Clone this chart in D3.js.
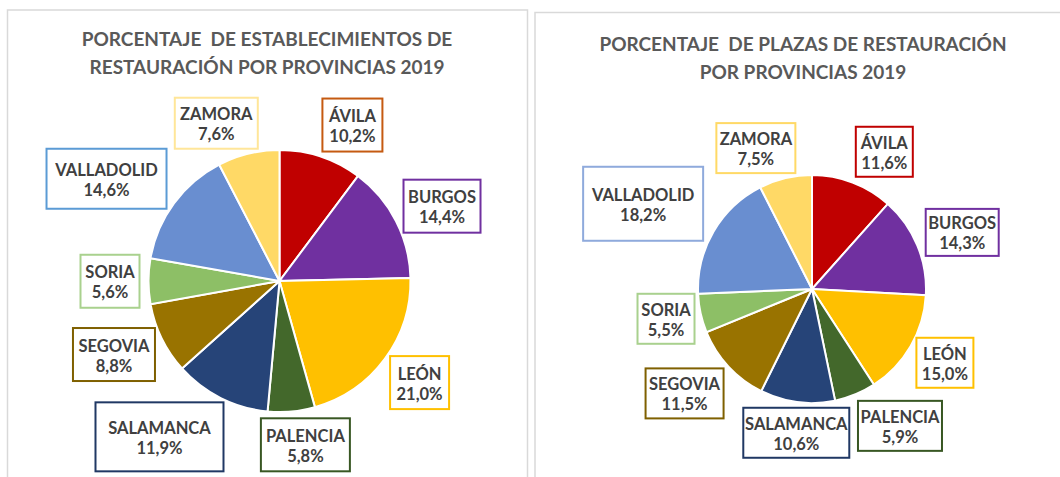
<!DOCTYPE html>
<html>
<head>
<meta charset="utf-8">
<script src="https://cdn.jsdelivr.net/npm/d3@7"></script>
<style>
  body { margin: 0; background: #fff; }
  svg { display: block; }
  text { font-family: Lato, "Open Sans", sans-serif; font-weight: bold; white-space: pre; }
</style>
</head>
<body>
<div id="chart"></div>
<script>
// Data
const provinces = ["ÁVILA", "BURGOS", "LEÓN", "PALENCIA", "SALAMANCA", "SEGOVIA", "SORIA", "VALLADOLID", "ZAMORA"];
const establecimientos = [10.2, 14.4, 21.0, 5.8, 11.9, 8.8, 5.6, 14.6, 7.6];
const plazas = [11.6, 14.3, 15.0, 5.9, 10.6, 11.5, 5.5, 18.2, 7.5];
const titleEstablecimientos = ["PORCENTAJE  DE ESTABLECIMIENTOS DE", "RESTAURACIÓN POR PROVINCIAS 2019"];
const titlePlazas = ["PORCENTAJE  DE PLAZAS DE RESTAURACIÓN", "POR PROVINCIAS 2019"];

// Colours
const sliceColors = ["#C00000", "#7030A0", "#FFC000", "#43682B", "#264478", "#997300", "#8DBF66", "#698ED0", "#FFD966"];
const boxColorsLeft = ["#C55A11", "#7030A0", "#FFC000", "#385723", "#203864", "#7F6000", "#A9D18E", "#5B9BD5", "#FFE699"];
const boxColorsRight = ["#C00000", "#7030A0", "#FFC000", "#385723", "#203864", "#7F6000", "#A9D18E", "#8FAADC", "#FFD966"];

// Label box sizes and nudges from the automatic outside position
const boxLayoutLeft = [
  {w: 60, h: 53, dx: 19, dy: 3},
  {w: 77, h: 53, dx: 3, dy: 2},
  {w: 59, h: 53, dx: 3, dy: 2},
  {w: 89, h: 53, dx: 9, dy: -3},
  {w: 128, h: 69, dx: -28, dy: -1},
  {w: 82, h: 53, dx: -2, dy: 0},
  {w: 59, h: 53, dx: 1, dy: 0},
  {w: 120, h: 60, dx: -11, dy: -1},
  {w: 83, h: 51, dx: -20, dy: 4}
];
const boxLayoutRight = [
  {w: 57, h: 50, dx: 18, dy: 2},
  {w: 73, h: 47, dx: 2, dy: 0},
  {w: 57, h: 50, dx: 1, dy: -1},
  {w: 84, h: 50, dx: 25, dy: -1},
  {w: 106, h: 50, dx: 7, dy: -4},
  {w: 78, h: 50, dx: -8, dy: 3},
  {w: 57, h: 50, dx: 3, dy: -2},
  {w: 120, h: 74, dx: -10, dy: -4},
  {w: 79, h: 50, dx: -18, dy: 4}
];

const width = 1060;
const height = 477;

const svg = d3.select("#chart").append("svg")
    .attr("width", width)
    .attr("height", height);

const fmt = v => v.toFixed(1).replace(".", ",") + "%";

function drawPanel(cfg) {
  // panel frame
  svg.append("rect")
      .attr("x", cfg.frame[0])
      .attr("y", cfg.frame[1])
      .attr("width", cfg.frame[2])
      .attr("height", cfg.frame[3])
      .attr("fill", "#fff")
      .attr("stroke", "#D9D9D9")
      .attr("stroke-width", 1.5);

  // title
  svg.append("g")
    .selectAll("text")
    .data(cfg.title)
    .join("text")
      .attr("x", cfg.titleX)
      .attr("y", (d, i) => cfg.titleY + i * cfg.titleGap)
      .attr("text-anchor", "middle")
      .attr("fill", "#595959")
      .style("font-size", "19px")
      .text(d => d);

  const data = provinces.map((p, i) => ({name: p, value: cfg.values[i], i}));
  const pie = d3.pie().sort(null).value(d => d.value);
  const arc = d3.arc().innerRadius(0).outerRadius(cfg.r);
  const arcs = pie(data);

  const g = svg.append("g")
      .attr("transform", `translate(${cfg.cx},${cfg.cy})`);

  g.selectAll("path")
    .data(arcs)
    .join("path")
      .attr("d", arc)
      .attr("fill", d => sliceColors[d.data.i])
      .attr("stroke", "#fff")
      .attr("stroke-width", 2);

  // data labels placed just outside the slice, then nudged like the original
  const gap = 10;
  const labels = g.selectAll("g.lbl")
    .data(arcs)
    .join("g")
      .attr("class", "lbl")
      .attr("transform", d => {
        const a = (d.startAngle + d.endAngle) / 2;
        const s = Math.sin(a), c = -Math.cos(a);
        const L = cfg.layout[d.data.i];
        const x = (cfg.r + gap) * s + s * L.w / 2 + L.dx;
        const y = (cfg.r + gap) * c + c * L.h / 2 + L.dy;
        return `translate(${x},${y})`;
      });

  labels.append("rect")
      .attr("x", d => -cfg.layout[d.data.i].w / 2)
      .attr("y", d => -cfg.layout[d.data.i].h / 2)
      .attr("width", d => cfg.layout[d.data.i].w)
      .attr("height", d => cfg.layout[d.data.i].h)
      .attr("fill", "#fff")
      .attr("stroke", d => cfg.boxColors[d.data.i])
      .attr("stroke-width", 2);

  labels.append("text")
      .attr("y", -3)
      .attr("text-anchor", "middle")
      .attr("fill", "#404040")
      .style("font-size", "16.5px")
      .text(d => d.data.name);

  labels.append("text")
      .attr("y", 17)
      .attr("text-anchor", "middle")
      .attr("fill", "#404040")
      .style("font-size", "16.5px")
      .text(d => fmt(d.data.value));
}

drawPanel({
  frame: [7.5, 10, 520, 500],
  title: titleEstablecimientos,
  titleX: 267, titleY: 46, titleGap: 28.3,
  values: establecimientos,
  cx: 279.5, cy: 281, r: 131,
  layout: boxLayoutLeft,
  boxColors: boxColorsLeft
});

drawPanel({
  frame: [535, 12.5, 560, 500],
  title: titlePlazas,
  titleX: 803, titleY: 50.5, titleGap: 28.7,
  values: plazas,
  cx: 812, cy: 289, r: 114,
  layout: boxLayoutRight,
  boxColors: boxColorsRight
});
</script>
</body>
</html>
